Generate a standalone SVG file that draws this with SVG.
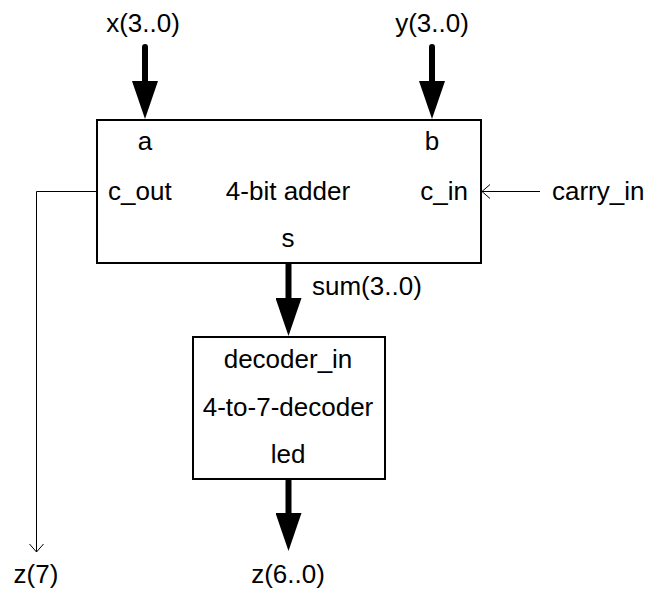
<svg xmlns="http://www.w3.org/2000/svg" width="646" height="589" viewBox="0 0 646 589">
<style>
text { font-family: "Liberation Sans", Arial, sans-serif; font-size: 26px; fill: #000; }
.box { fill: #fff; stroke: #000; stroke-width: 2; }
.bus { stroke: #000; stroke-width: 6; stroke-linecap: round; fill: none; }
.wire { stroke: #000; stroke-width: 1; fill: none; }
.m { text-anchor: middle; }
</style>
<defs>
<marker id="bushead" markerUnits="userSpaceOnUse" markerWidth="38" markerHeight="26" viewBox="0 0 38 26" refX="1" refY="13" orient="auto">
<path d="M0,0 L38,13 L0,26 Z" fill="#000"/>
</marker>
<marker id="openhead" markerUnits="userSpaceOnUse" markerWidth="10" markerHeight="16" viewBox="0 0 10 16" refX="9" refY="8" orient="auto">
<path d="M1,1 L9,8 L1,15" fill="none" stroke="#000" stroke-width="1"/>
</marker>
</defs>
<g id="connectors">
<line class="bus" x1="145" y1="47" x2="145" y2="82" marker-end="url(#bushead)"/>
<line class="bus" x1="432" y1="47" x2="432" y2="82" marker-end="url(#bushead)"/>
<line class="bus" x1="288.5" y1="265" x2="288.5" y2="299" marker-end="url(#bushead)"/>
<line class="bus" x1="288.5" y1="481" x2="288.5" y2="514" marker-end="url(#bushead)"/>
<polyline class="wire" points="97,191.5 36.5,191.5 36.5,552" marker-end="url(#openhead)"/>
<line class="wire" x1="540" y1="191.5" x2="482" y2="191.5" marker-end="url(#openhead)"/>
<text x="143" y="32" class="m">x(3..0)</text>
<text x="432" y="32" class="m">y(3..0)</text>
<text x="552" y="200">carry_in</text>
<text x="312" y="295">sum(3..0)</text>
<text x="36" y="583" class="m">z(7)</text>
<text x="288" y="583" class="m">z(6..0)</text>
</g>
<g id="adder">
<rect class="box" x="97" y="120" width="384" height="143"/>
<text x="145" y="150" class="m">a</text>
<text x="432" y="150" class="m">b</text>
<text x="108" y="200">c_out</text>
<text x="288" y="200" class="m">4-bit adder</text>
<text x="468" y="200" text-anchor="end">c_in</text>
<text x="288" y="247" class="m">s</text>
</g>
<g id="decoder">
<rect class="box" x="193" y="337" width="192" height="142"/>
<text x="288" y="368" class="m">decoder_in</text>
<text x="288" y="416" class="m">4-to-7-decoder</text>
<text x="288" y="463" class="m">led</text>
</g>
</svg>
